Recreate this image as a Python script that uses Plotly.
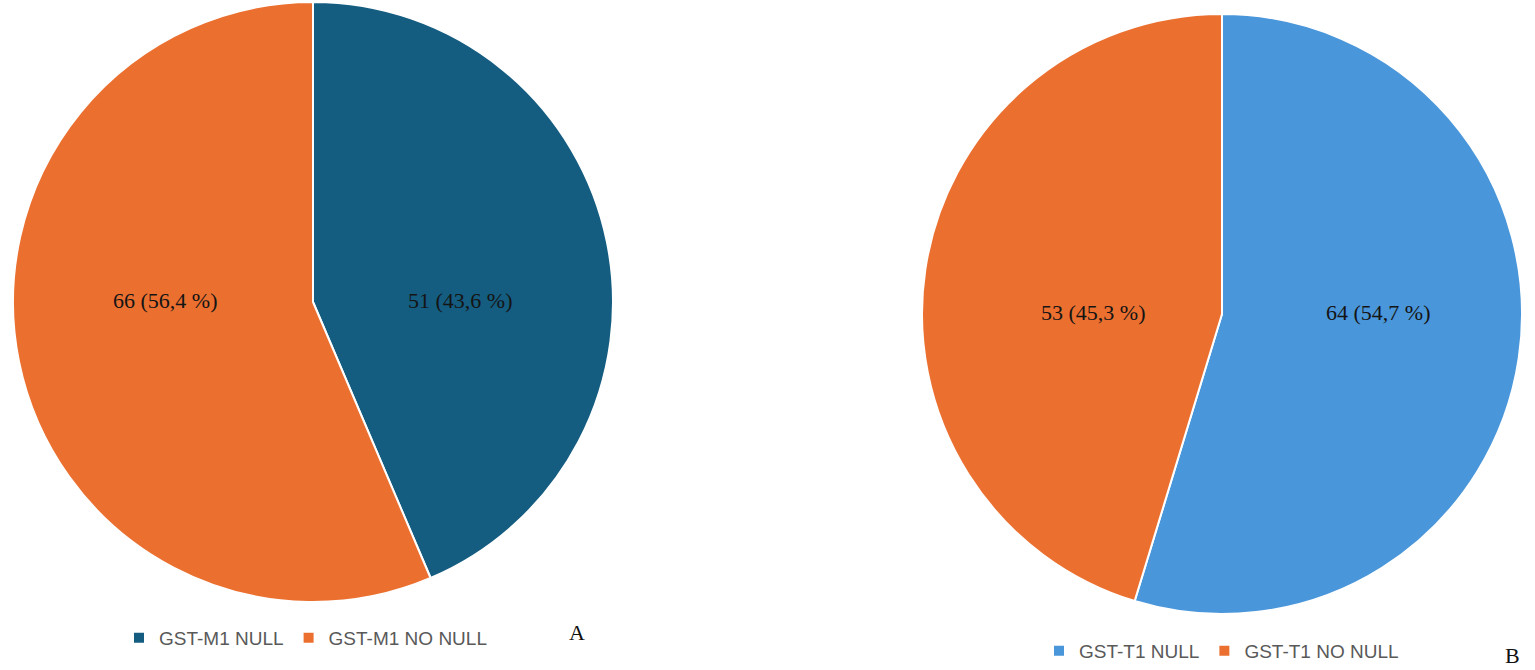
import plotly.graph_objects as go

W, H = 1535, 670

labels_a = ["GST-M1 NULL", "GST-M1 NO NULL"]
values_a = [51, 66]
pct_a = ["43,6", "56,4"]
colors_a = ["#145C80", "#EB7030"]

labels_b = ["GST-T1 NULL", "GST-T1 NO NULL"]
values_b = [64, 53]
pct_b = ["54,7", "45,3"]
colors_b = ["#4A96DA", "#EB7030"]

# label placement (pixel positions of slice labels, layout only)
label_pos_a = [(460, 300), (165, 300)]
label_pos_b = [(1378, 312), (1093, 312)]


def px_dom(x0, x1, top, bottom):
    return dict(x=[x0 / W, x1 / W], y=[(H - bottom) / H, (H - top) / H])


def pie(labels, values, colors, dom, legend):
    return go.Pie(
        labels=labels, values=values, textinfo="none",
        marker=dict(colors=colors, line=dict(color="white", width=2)),
        sort=False, direction="clockwise", rotation=0,
        domain=dom, legend=legend, hoverinfo="label+value+percent",
    )


fig = go.Figure()
fig.add_trace(pie(labels_a, values_a, colors_a, px_dom(13, 613, 2, 602), "legend"))
fig.add_trace(pie(labels_b, values_b, colors_b, px_dom(922, 1522, 14, 614), "legend2"))

annotations = []
for vals, pcts, poss in [(values_a, pct_a, label_pos_a), (values_b, pct_b, label_pos_b)]:
    for v, p, (x, y) in zip(vals, pcts, poss):
        annotations.append(dict(
            text=f"{v} ({p} %)", x=x / W, y=(H - y) / H, xref="paper", yref="paper",
            xanchor="center", yanchor="middle", showarrow=False,
            font=dict(family="Liberation Serif", size=22, color="#141414")))

for t, x, y in [("A", 577, 632), ("B", 1512, 655)]:
    annotations.append(dict(
        text=t, x=x / W, y=(H - y) / H, xref="paper", yref="paper",
        xanchor="center", yanchor="middle", showarrow=False,
        font=dict(family="Liberation Serif", size=22, color="#111111")))

legend_font = dict(family="Liberation Sans", size=19, color="#595959")
fig.update_layout(
    width=W, height=H,
    margin=dict(l=0, r=0, t=0, b=0),
    paper_bgcolor="white", plot_bgcolor="white",
    legend=dict(orientation="h", x=119 / W, y=(H - 619) / H, xanchor="left", yanchor="top",
                font=legend_font, bgcolor="rgba(0,0,0,0)", traceorder="normal"),
    legend2=dict(orientation="h", x=1039 / W, y=(H - 632) / H, xanchor="left", yanchor="top",
                 font=legend_font, bgcolor="rgba(0,0,0,0)", traceorder="normal"),
    annotations=annotations,
)

fig.write_html("out.html", config={"displayModeBar": False},
               post_script="document.body.style.margin='0';")
